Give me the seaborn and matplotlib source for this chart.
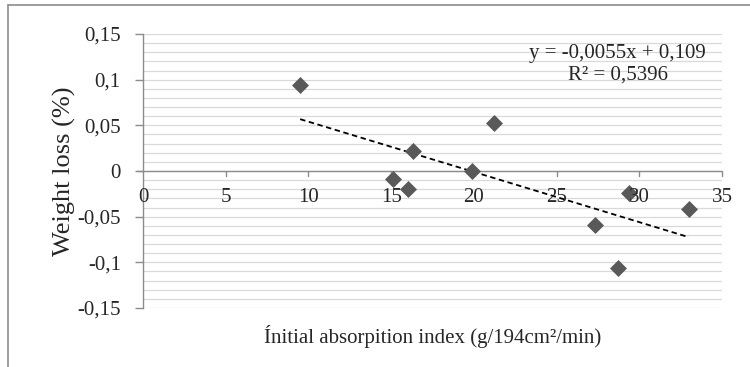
import numpy as np
import pandas as pd
import matplotlib
matplotlib.use("Agg")
import matplotlib.pyplot as plt
from matplotlib.lines import Line2D
from matplotlib.ticker import FuncFormatter
import seaborn as sns

# Measured samples
absorption = [9.5, 21.2, 16.3, 19.9, 15.1, 16.0, 29.4, 33.0, 27.3, 28.7]
weight_loss = [0.094, 0.053, 0.022, 0.000, -0.009, -0.020, -0.024, -0.042, -0.059, -0.106]

# Linear trend reported on the chart
slope = -0.0055
intercept = 0.109
r_squared = 0.5396

x_ticks = [0, 5, 10, 15, 20, 25, 30, 35]
y_ticks = [-0.15, -0.1, -0.05, 0, 0.05, 0.1, 0.15]

df = pd.DataFrame({"x": absorption, "y": weight_loss})

sns.set_theme(style="white")
plt.rcParams["font.family"] = ["Liberation Serif", "DejaVu Serif"]

fig = plt.figure(figsize=(7.5, 3.67), dpi=100)
ax = fig.add_axes([143 / 750, 1 - 308 / 367, (722 - 143) / 750, (308 - 34) / 367])

axis_grey = "#8c8c8c"
grid_grey = "#d9d9d9"
fs = 15

# horizontal gridlines every 0.01
for v in np.arange(-0.15, 0.1501, 0.01):
    ax.axhline(v, color=grid_grey, lw=0.9, zorder=0)

# trendline over the sampled range
xs = np.array([min(absorption), max(absorption)])
ax.plot(xs, slope * xs + intercept, ls=(0, (3, 2)), color="black", lw=1.3, zorder=2)

sns.scatterplot(data=df, x="x", y="y", marker="D", s=75, color="#595959",
                edgecolor="#595959", linewidth=0, ax=ax, zorder=3)

ax.set_xlim(0, 35)
ax.set_ylim(-0.15, 0.15)
ax.set_yticks(y_ticks)
ax.set_xticks(x_ticks)


def comma(v, pos):
    return f"{v:g}".replace(".", ",")


ax.yaxis.set_major_formatter(FuncFormatter(comma))

for side in ["top", "right", "bottom"]:
    ax.spines[side].set_visible(False)
ax.spines["left"].set_color(axis_grey)
ax.spines["left"].set_linewidth(1.0)

# x axis line drawn at y = 0
ax.axhline(0, color=axis_grey, lw=1.0, zorder=1)
ax.plot([-0.36, 0], [0, 0], color=axis_grey, lw=1.0, clip_on=False, zorder=1)
for t in x_ticks[1:]:
    ax.plot([t, t], [0, -0.006], color=axis_grey, lw=1.0, clip_on=False, zorder=1)

ax.tick_params(axis="y", which="major", direction="out", length=6, width=1.0,
               color=axis_grey, labelsize=fs, pad=10, left=True)
ax.tick_params(axis="x", which="major", length=0, bottom=False)

# x tick labels sit just under the y=0 line
ax.set_xticklabels([])
for t in x_ticks:
    ax.text(t, -0.0335, comma(t, None), ha="center", va="baseline", fontsize=fs, zorder=4)

ax.set_xlabel("Ínitial absorpition index (g/194cm²/min)", fontsize=fs, labelpad=9)
ax.set_ylabel("Weight loss (%)", fontsize=19, labelpad=1)

ax.text(0.82, 0.912, f"y = {slope:.4f}x + {intercept:.3f}".replace(".", ","),
        transform=ax.transAxes, ha="center", va="baseline", fontsize=fs)
ax.text(0.82, 0.832, f"R² = {r_squared:.4f}".replace(".", ","),
        transform=ax.transAxes, ha="center", va="baseline", fontsize=fs)

# chart area border
fig.add_artist(Line2D([8 / 750, 1.0], [1 - 5 / 367, 1 - 5 / 367], color="#8c8c8c", lw=1.2,
                      transform=fig.transFigure))
fig.add_artist(Line2D([8 / 750, 8 / 750], [0, 1 - 5 / 367], color="#8c8c8c", lw=1.2,
                      transform=fig.transFigure))

fig.savefig("out.png", dpi=100)
